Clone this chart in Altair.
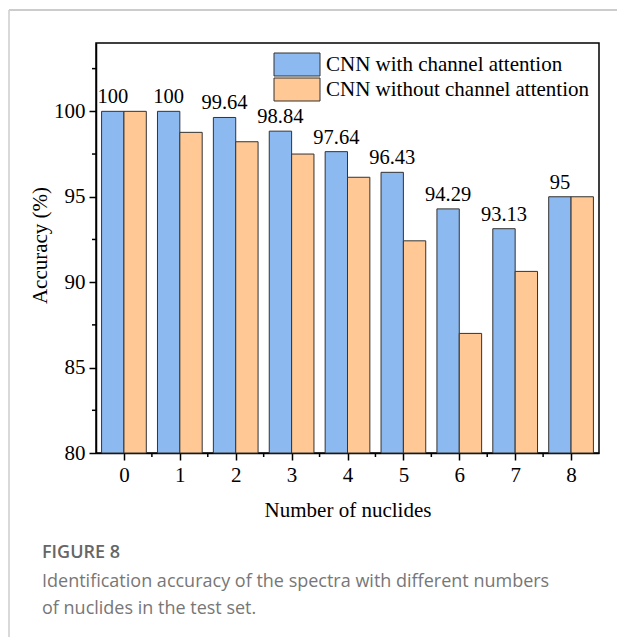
import altair as alt
import pandas as pd

# Accuracy per number of nuclides in the test spectra
nuclides = [0, 1, 2, 3, 4, 5, 6, 7, 8]
with_attention = [100, 100, 99.64, 98.84, 97.64, 96.43, 94.29, 93.13, 95]
without_attention = [100, 98.77, 98.22, 97.5, 96.14, 92.42, 87.0, 90.63, 95]
series_names = ["CNN with channel attention", "CNN without channel attention"]
series_colors = ["#8cb9f0", "#ffc894"]

y_major = [80, 85, 90, 95, 100]
y_minor = [82.5, 87.5, 92.5, 97.5, 102.5]
x_minor = [0.5, 1.5, 2.5, 3.5, 4.5, 5.5, 6.5, 7.5]

x_title = "Number of nuclides"
y_title = "Accuracy (%)"
caption_head = "FIGURE 8"
caption_lines = [
    "Identification accuracy of the spectra with different numbers",
    "of nuclides in the test set.",
]

SERIF = "Liberation Serif"
W, H = 503, 410
HALF = 0.4  # width of one bar in category units

rows = []
for n, a, b in zip(nuclides, with_attention, without_attention):
    rows.append({"n": n, "series": series_names[0], "value": a,
                 "x0": n - HALF, "x1": n, "xc": n - HALF / 2, "label": f"{a:g}"})
    rows.append({"n": n, "series": series_names[1], "value": b,
                 "x0": n, "x1": n + HALF, "xc": n + HALF / 2, "label": f"{b:g}"})
df = pd.DataFrame(rows)

xscale = alt.Scale(domain=[-0.5, 8.5], nice=False, zero=False)
yscale = alt.Scale(domain=[80, 104], nice=False, zero=False)
cscale = alt.Scale(domain=series_names, range=series_colors)

x_axis = alt.Axis(values=nuclides, format="d",
                  titleFont=SERIF, titleFontSize=21, titleFontWeight="normal",
                  titleColor="black", titleY=57, titleBaseline="middle",
                  labelFont=SERIF, labelFontSize=21, labelColor="black",
                  labelPadding=4, tickSize=7, tickWidth=1.5, tickColor="black",
                  domainColor="black", domainWidth=1.5, grid=False)
y_axis = alt.Axis(values=y_major,
                  titleFont=SERIF, titleFontSize=21, titleFontWeight="normal",
                  titleColor="black", titleX=-56, titleY=202,
                  titleAlign="center", titleBaseline="middle",
                  labelFont=SERIF, labelFontSize=21, labelColor="black",
                  labelPadding=4, tickSize=7, tickWidth=1.5, tickColor="black",
                  domainColor="black", domainWidth=1.5, grid=False)


def xenc(field):
    return alt.X(field, scale=xscale, title=x_title, axis=x_axis)


def yenc(field):
    return alt.Y(field, scale=yscale, title=y_title, axis=y_axis)


bars = alt.Chart(df).mark_bar(stroke="#333333", strokeWidth=1).encode(
    x=xenc("x0:Q"),
    x2="x1:Q",
    y=yenc("value:Q"),
    y2=alt.datum(80),
    color=alt.Color("series:N", scale=cscale, legend=None),
)

labels = alt.Chart(df[df["series"] == series_names[0]]).mark_text(
    font=SERIF, fontSize=20.5, color="black", baseline="bottom", dy=-4
).encode(
    x=xenc("xc:Q"),
    y=yenc("value:Q"),
    text="label:N",
)

y_minor_ticks = alt.Chart(pd.DataFrame({"t": y_minor})).mark_rule(
    color="black", strokeWidth=1.5
).encode(
    y=yenc("t:Q"),
    x=alt.value(-4), x2=alt.value(0),
)

x_minor_ticks = alt.Chart(pd.DataFrame({"t": x_minor})).mark_rule(
    color="black", strokeWidth=1.5
).encode(
    x=xenc("t:Q"),
    y=alt.value(H), y2=alt.value(H + 4),
)

# Legend drawn inside the top-right of the plot
legend_layers = []
for i, (name, col) in enumerate(zip(series_names, series_colors)):
    top = 10 + 25 * i
    ldf = pd.DataFrame({"label": [name]})
    legend_layers.append(
        alt.Chart(ldf).mark_rect(fill=col, stroke="#333333", strokeWidth=1).encode(
            x=alt.value(178), x2=alt.value(224), y=alt.value(top), y2=alt.value(top + 23)
        )
    )
    legend_layers.append(
        alt.Chart(ldf).mark_text(font=SERIF, fontSize=21, color="black",
                                 align="left", baseline="middle").encode(
            x=alt.value(230), y=alt.value(top + 12), text="label:N"
        )
    )

# Figure caption below the plot
head = alt.Chart(pd.DataFrame({"t": [caption_head]})).mark_text(
    font="Open Sans", fontSize=18, fontWeight=600, color="#666666",
    align="left", baseline="alphabetic"
).encode(x=alt.value(-54), y=alt.value(515), text="t:N")

cap_layers = []
for i, line in enumerate(caption_lines):
    cap_layers.append(
        alt.Chart(pd.DataFrame({"t": [line]})).mark_text(
            font="Open Sans", fontSize=18, color="#777777",
            align="left", baseline="alphabetic"
        ).encode(x=alt.value(-54), y=alt.value(544 + 27 * i), text="t:N")
    )

# Thin frame around the figure block
frame_top = alt.Chart(pd.DataFrame({"a": [0]})).mark_rule(
    color="#cccccc", strokeWidth=2
).encode(x=alt.value(-87), x2=alt.value(521), y=alt.value(-33))
frame_left = alt.Chart(pd.DataFrame({"a": [0]})).mark_rule(
    color="#cccccc", strokeWidth=1.5
).encode(x=alt.value(-87), y=alt.value(-33), y2=alt.value(594))

chart = alt.layer(
    bars, labels, y_minor_ticks, x_minor_ticks, *legend_layers,
    head, *cap_layers, frame_top, frame_left
).properties(
    width=W, height=H,
    autosize=alt.AutoSizeParams(type="none"),
    padding={"left": 96, "top": 43, "right": 18, "bottom": 184},
    background="white",
).configure_view(stroke="black", strokeWidth=1.5)

chart.save("out.html", embed_options={"renderer": "svg", "actions": False})
